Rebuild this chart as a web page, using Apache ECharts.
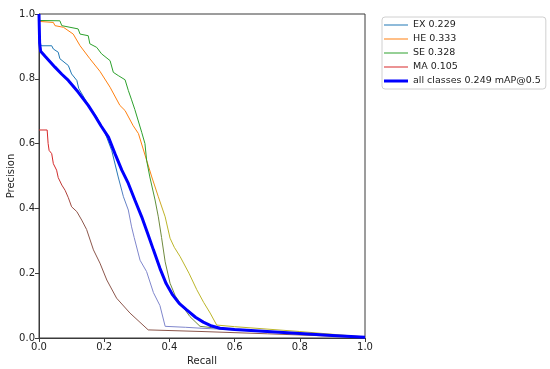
<!DOCTYPE html>
<html>
<head>
<meta charset="utf-8">
<script src="https://cdn.jsdelivr.net/npm/echarts@6/dist/echarts.min.js"></script>
<style>
html,body{margin:0;padding:0;background:#fff;}
#chart{width:550px;height:369px;}
</style>
</head>
<body>
<div id="chart"></div>
<script>
// ---- data ----
const seriesNames = ['EX 0.229', 'HE 0.333', 'SE 0.328', 'MA 0.105', 'all classes 0.249 mAP@0.5'];
const xTicks = [0, 0.2, 0.4, 0.6, 0.8, 1.0];
const yTicks = [0, 0.2, 0.4, 0.6, 0.8, 1.0];

const exCurve = [[0,1.0],[0.002,0.91],[0.008,0.902],[0.039,0.902],[0.044,0.892],[0.059,0.882],[0.064,0.862],[0.09,0.841],[0.1,0.815],[0.116,0.795],[0.122,0.77],[0.15,0.722],[0.175,0.685],[0.2,0.64],[0.223,0.579],[0.243,0.497],[0.259,0.436],[0.274,0.395],[0.284,0.343],[0.292,0.31],[0.31,0.24],[0.33,0.205],[0.351,0.14],[0.371,0.1],[0.387,0.036],[0.45,0.033],[0.5,0.03],[0.6,0.025],[0.8,0.013],[1.0,0.001]];
const heCurve = [[0,1.0],[0.002,0.977],[0.044,0.974],[0.049,0.964],[0.075,0.959],[0.105,0.938],[0.126,0.902],[0.156,0.862],[0.187,0.823],[0.218,0.774],[0.248,0.718],[0.264,0.702],[0.289,0.655],[0.305,0.631],[0.33,0.549],[0.346,0.497],[0.366,0.436],[0.387,0.374],[0.402,0.308],[0.415,0.28],[0.433,0.251],[0.46,0.2],[0.484,0.149],[0.505,0.11],[0.525,0.077],[0.545,0.04],[0.6,0.035],[0.8,0.02],[1.0,0.003]];
const seCurve = [[0,1.0],[0.002,0.98],[0.064,0.979],[0.07,0.964],[0.12,0.954],[0.126,0.938],[0.151,0.933],[0.156,0.908],[0.177,0.897],[0.192,0.877],[0.218,0.856],[0.228,0.82],[0.243,0.81],[0.264,0.797],[0.274,0.764],[0.284,0.735],[0.294,0.705],[0.315,0.635],[0.325,0.6],[0.33,0.549],[0.34,0.497],[0.356,0.426],[0.366,0.374],[0.376,0.31],[0.387,0.235],[0.402,0.169],[0.418,0.13],[0.433,0.108],[0.463,0.066],[0.494,0.036],[0.53,0.032],[0.6,0.027],[0.8,0.015],[1.0,0.002]];
const maCurve = [[0,0.642],[0.025,0.642],[0.028,0.6],[0.031,0.579],[0.039,0.569],[0.044,0.538],[0.054,0.518],[0.059,0.495],[0.07,0.472],[0.08,0.456],[0.09,0.433],[0.1,0.405],[0.116,0.39],[0.131,0.364],[0.146,0.335],[0.167,0.272],[0.187,0.231],[0.208,0.179],[0.238,0.123],[0.279,0.077],[0.335,0.025],[0.5,0.02],[0.7,0.013],[1.0,0.002]];
const allCurve = [[0,1.0],[0.002,0.91],[0.005,0.885],[0.02,0.868],[0.049,0.836],[0.07,0.814],[0.09,0.795],[0.12,0.759],[0.151,0.718],[0.172,0.685],[0.19,0.655],[0.213,0.62],[0.233,0.569],[0.254,0.518],[0.274,0.477],[0.294,0.426],[0.315,0.374],[0.335,0.318],[0.351,0.272],[0.371,0.215],[0.39,0.168],[0.41,0.133],[0.43,0.107],[0.453,0.087],[0.48,0.064],[0.504,0.049],[0.53,0.037],[0.555,0.03],[0.6,0.026],[0.7,0.02],[0.8,0.014],[0.9,0.008],[1.0,0.002]];

// ---- styling ----
const topColors = ['#1f77b4', '#ff7f0e', '#2ca02c', '#d62728', '#0000ff'];
const bottomColors = ['#7f86cc', '#bcb52a', '#6f8a3e', '#8c564b', '#0000ff'];
const curves = [exCurve, heCurve, seCurve, maCurve, allCurve];
const FONT = 'DejaVu Sans';

const chart = echarts.init(document.getElementById('chart'), null, {renderer: 'canvas'});

function grad(i) {
  return new echarts.graphic.LinearGradient(0, 170, 0, 215, [
    {offset: 0, color: topColors[i]},
    {offset: 1, color: bottomColors[i]}
  ], true);
}

const series = curves.map((c, i) => ({
  name: seriesNames[i],
  type: 'line',
  data: c,
  showSymbol: false,
  symbol: 'none',
  smooth: false,
  animation: false,
  z: i === 4 ? 5 : 3,
  lineStyle: {width: i === 4 ? 3 : 1, color: grad(i)},
  itemStyle: {color: topColors[i]}
}));

const option = {
  backgroundColor: '#ffffff',
  animation: false,
  grid: {left: 39, right: 185, top: 14, bottom: 31, containLabel: false, outerBoundsMode: 'none',
    show: true, borderColor: '#3a3a3a', borderWidth: 1, backgroundColor: 'transparent'},
  xAxis: {
    type: 'value', min: 0, max: 1, interval: 0.2,
    name: 'Recall', nameLocation: 'middle', nameGap: 18, nameMoveOverlap: false,
    nameTextStyle: {fontFamily: FONT, fontSize: 10, color: '#222'},
    axisLine: {show: true, lineStyle: {color: '#3a3a3a', width: 1}},
    axisTick: {show: true, length: 4, inside: false, lineStyle: {color: '#3a3a3a'}},
    axisLabel: {fontFamily: FONT, fontSize: 10, color: '#222', margin: 4,
      formatter: v => xTicks.includes(+v.toFixed(1)) ? v.toFixed(1) : ''},
    splitLine: {show: false}
  },
  yAxis: {
    type: 'value', min: 0, max: 1, interval: 0.2,
    name: 'Precision', nameLocation: 'middle', nameGap: 23, nameRotate: 90, nameMoveOverlap: false,
    nameTextStyle: {fontFamily: FONT, fontSize: 10, color: '#222'},
    axisLine: {show: true, lineStyle: {color: '#3a3a3a', width: 1}},
    axisTick: {show: true, length: 4, inside: false, lineStyle: {color: '#3a3a3a'}},
    axisLabel: {fontFamily: FONT, fontSize: 10, color: '#222', margin: 4,
      formatter: v => yTicks.includes(+v.toFixed(1)) ? v.toFixed(1) : ''},
    splitLine: {show: false}
  },
  legend: {
    orient: 'vertical', left: 382, top: 17,
    padding: [3, 5, 3, 2],
    borderColor: '#d0d0d0', borderWidth: 1, borderRadius: 3,
    backgroundColor: '#ffffff',
    itemWidth: 24, itemHeight: 10, itemGap: 4,
    symbolKeepAspect: true,
    textStyle: {fontFamily: FONT, fontSize: 9.5, color: '#222', lineHeight: 10},
    data: seriesNames.map((n, i) => ({
      name: n,
      icon: i === 4 ? 'path://M0,0H24V3H0Z' : 'path://M0,0H24V1H0Z',
      itemStyle: {color: topColors[i], borderWidth: 0}
    }))
  },
  series: series
};
chart.setOption(option);
</script>
</body>
</html>
